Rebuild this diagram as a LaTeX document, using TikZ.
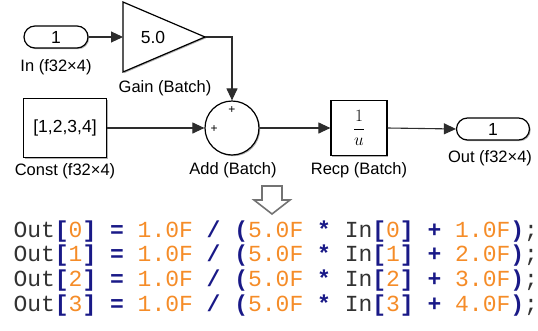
\documentclass[tikz,border=0pt]{standalone}
\usepackage{amsmath}
\usepackage{fontspec}
\setmainfont{Liberation Sans}
\newfontfamily\codefont{Liberation Mono}
\usetikzlibrary{positioning,arrows.meta,shadows}
\definecolor{WireGray}{RGB}{45,45,45}
\definecolor{CodeNum}{RGB}{245,140,40}
\definecolor{CodeOp}{RGB}{25,25,135}
\definecolor{CodeId}{RGB}{50,50,50}
\definecolor{HintGray}{RGB}{115,115,115}
\tikzset{
  blk/.style={draw=black,fill=white,line width=1.2pt,
    drop shadow={shadow xshift=1.2pt,shadow yshift=-1.2pt,opacity=0.3,fill=black}},
  port/.style={blk,rounded corners=11pt,minimum height=22pt,inner sep=0pt},
  inner/.style={font=\fontsize{17.5}{20}\selectfont},
  lab/.style={font=\fontsize{16.5}{19}\selectfont,inner sep=0pt},
  sig/.style={draw=WireGray,line width=1.1pt,-{Triangle[length=12pt,width=11pt]}},
  plus/.style={font=\fontsize{12}{12}\selectfont,inner sep=0pt},
  codeline/.style={font=\codefont\fontsize{23}{26}\selectfont,text=CodeId,inner sep=0pt,anchor=base west},
}
\newcommand{\codenum}[1]{\textcolor{CodeNum}{#1}}
\newcommand{\codeop}[1]{\textcolor{CodeOp}{\bfseries #1}}

\begin{document}
\begin{tikzpicture}[x=1pt,y=-1pt]
\useasboundingbox (0,0) rectangle (538,330);
% blocks
\node[port,inner,minimum width=64pt] (inport) at (56,37) {1};
\draw[blk] (123,2) -- (123,72) -- (205,37) -- cycle;
\coordinate (gain-in) at (123,37);
\coordinate (gain-out) at (205,37);
\node[inner,inner sep=0pt] (gain) at (153,37) {5.0};
\node[blk,inner,minimum width=83pt,minimum height=59pt,inner sep=0pt] (const) at (65,128) {[1,2,3,4]};
\node[blk,circle,minimum size=54pt,inner sep=0pt] (add) at (232,128) {};
\node[plus,below=6pt of add.north] (plus1) {+};
\node[plus,right=6pt of add.west,yshift=-1pt] (plus2) {+};
\node[blk,minimum width=56pt,minimum height=55pt,inner sep=0pt] (recp) at (359,128) {\fontsize{17}{20}\selectfont$\dfrac{1}{u}$};
\node[port,inner,minimum width=73pt] (outport) at (493,129) {1};
% labels
\node[lab] (inport-lab) at (56,67) {In (f32\texttimes4)};
\node[lab] (gain-lab) at (165,88) {Gain (Batch)};
\node[lab] (const-lab) at (65,171) {Const (f32\texttimes4)};
\node[lab] (add-lab) at (233,170) {Add (Batch)};
\node[lab] (recp-lab) at (359,170) {Recp (Batch)};
\node[lab] (outport-lab) at (490,158) {Out (f32\texttimes4)};
% signals
\draw[sig] (inport.east) -- (gain-in);
\draw[sig] (gain-out) -| (add.north);
\draw[sig] (const.east) -- (add.west);
\draw[sig] (add.east) -- (recp.west);
\draw[sig] (recp.east) -- (outport.west);
% generated code
\draw[HintGray,line width=1.6pt,line join=miter] (262,186) -- (282,186) -- (282,200) -- (290,200) -- (272,214) -- (254,200) -- (262,200) -- cycle;
\node[codeline] (line0) at (13.3,237) {Out\codeop{[}\codenum{0}\codeop{]} \codeop{=} \codenum{1.0F} \codeop{/} \codeop{(}\codenum{5.0F} \codeop{*} In\codeop{[}\codenum{0}\codeop{]} \codeop{+} \codenum{1.0F}\codeop{)};};
\node[codeline] (line1) at (13.3,261.7) {Out\codeop{[}\codenum{1}\codeop{]} \codeop{=} \codenum{1.0F} \codeop{/} \codeop{(}\codenum{5.0F} \codeop{*} In\codeop{[}\codenum{1}\codeop{]} \codeop{+} \codenum{2.0F}\codeop{)};};
\node[codeline] (line2) at (13.3,286.3) {Out\codeop{[}\codenum{2}\codeop{]} \codeop{=} \codenum{1.0F} \codeop{/} \codeop{(}\codenum{5.0F} \codeop{*} In\codeop{[}\codenum{2}\codeop{]} \codeop{+} \codenum{3.0F}\codeop{)};};
\node[codeline] (line3) at (13.3,311) {Out\codeop{[}\codenum{3}\codeop{]} \codeop{=} \codenum{1.0F} \codeop{/} \codeop{(}\codenum{5.0F} \codeop{*} In\codeop{[}\codenum{3}\codeop{]} \codeop{+} \codenum{4.0F}\codeop{)};};
\end{tikzpicture}
\end{document}
